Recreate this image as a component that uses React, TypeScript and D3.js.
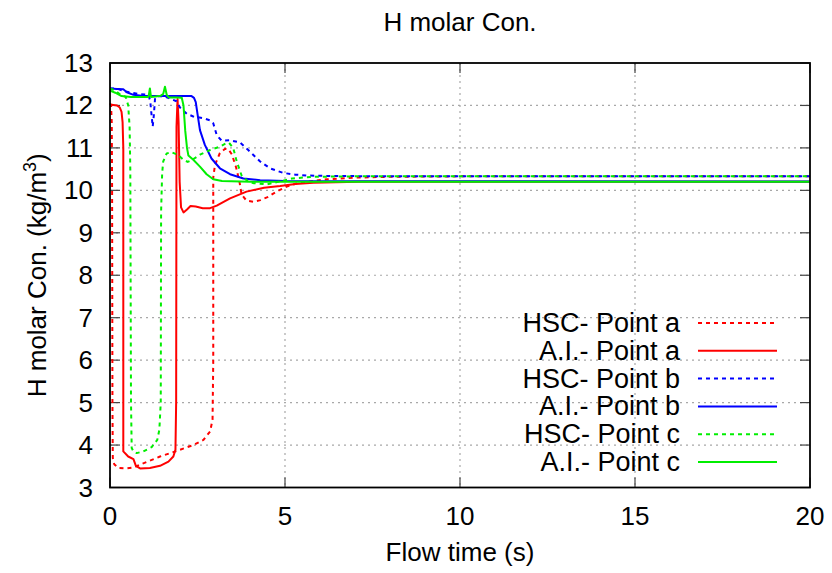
import React from "react";
import * as d3 from "d3";

type Pt = [number, number];

const hscA: Pt[] = [[0,12.05],[0.03,12.0],[0.05,11.6],[0.06,10],[0.07,5],[0.08,3.7],[0.12,3.55],[0.24,3.46],[0.48,3.45],[0.67,3.47],[0.95,3.57],[1.43,3.73],[1.9,3.86],[2.38,4.0],[2.67,4.12],[2.86,4.32],[2.93,4.6],[2.95,6],[2.95,10.3],[3.0,10.6],[3.14,10.88],[3.29,10.98],[3.38,10.97],[3.48,10.85],[3.6,10.55],[3.7,10.2],[3.76,9.9],[3.9,9.76],[4.1,9.73],[4.3,9.77],[4.5,9.84],[4.76,9.97],[5.05,10.09],[5.33,10.16],[5.7,10.21],[6.2,10.26],[7,10.3],[8,10.32],[10,10.33],[20,10.33]];
const aiA: Pt[] = [[0,12.02],[0.2,12.0],[0.28,11.95],[0.33,11.85],[0.36,11.6],[0.38,11.0],[0.38,3.85],[0.52,3.73],[0.67,3.67],[0.74,3.51],[0.86,3.45],[1.14,3.46],[1.43,3.51],[1.67,3.61],[1.81,3.73],[1.87,3.89],[1.89,5],[1.9,11.5],[1.93,12.15],[1.96,11.6],[1.99,10.2],[2.03,9.6],[2.1,9.48],[2.2,9.55],[2.3,9.63],[2.45,9.62],[2.65,9.58],[2.86,9.58],[3.05,9.64],[3.43,9.81],[3.9,9.97],[4.4,10.06],[4.86,10.1],[5.3,10.15],[5.81,10.18],[7.1,10.2],[20,10.2]];
const hscB: Pt[] = [[0,12.4],[0.2,12.4],[0.43,12.33],[0.81,12.27],[1.1,12.25],[1.15,12.1],[1.19,11.75],[1.22,11.5],[1.25,11.75],[1.29,12.2],[1.4,12.22],[1.6,12.2],[1.9,12.1],[2.0,11.95],[2.2,11.8],[2.38,11.74],[2.67,11.7],[2.86,11.65],[2.95,11.58],[3.05,11.3],[3.19,11.17],[3.43,11.18],[3.71,11.13],[3.95,10.95],[4.29,10.68],[4.57,10.52],[4.95,10.41],[5.3,10.37],[5.62,10.35],[6.2,10.34],[8,10.33],[20,10.33]];
const aiB: Pt[] = [[0,12.4],[0.2,12.39],[0.38,12.38],[0.48,12.31],[0.67,12.25],[0.95,12.22],[1.5,12.22],[2.33,12.22],[2.4,12.18],[2.45,12.08],[2.5,11.8],[2.57,11.42],[2.71,11.07],[2.9,10.75],[3.14,10.52],[3.43,10.38],[3.81,10.28],[4.29,10.24],[5,10.22],[20,10.21]];
const hscC: Pt[] = [[0,12.4],[0.15,12.35],[0.3,12.25],[0.45,12.2],[0.52,12.0],[0.56,11.5],[0.58,10.5],[0.6,5],[0.62,3.93],[0.67,3.85],[0.76,3.81],[0.95,3.85],[1.19,3.95],[1.35,4.12],[1.41,4.36],[1.45,5],[1.46,9.5],[1.49,10.4],[1.52,10.68],[1.62,10.87],[1.76,10.9],[1.95,10.83],[2.1,10.72],[2.22,10.67],[2.35,10.72],[2.57,10.84],[2.86,10.95],[3.14,11.03],[3.3,11.1],[3.4,11.12],[3.52,11.0],[3.62,10.68],[3.76,10.35],[3.95,10.2],[4.1,10.17],[4.48,10.14],[4.8,10.2],[5.2,10.28],[5.8,10.32],[7,10.33],[20,10.33]];
const aiC: Pt[] = [[0,12.35],[0.15,12.3],[0.33,12.22],[0.6,12.2],[1.1,12.2],[1.14,12.4],[1.17,12.2],[1.3,12.21],[1.45,12.23],[1.52,12.27],[1.57,12.44],[1.62,12.25],[1.68,12.19],[1.9,12.19],[2.05,12.18],[2.1,12.0],[2.15,11.4],[2.2,11.0],[2.24,10.82],[2.38,10.72],[2.57,10.56],[2.76,10.38],[2.95,10.26],[3.2,10.22],[4,10.2],[20,10.2]];

const seriesNames = ["HSC- Point a", "A.I.- Point a", "HSC- Point b", "A.I.- Point b", "HSC- Point c", "A.I.- Point c"];
const seriesData = [hscA, aiA, hscB, aiB, hscC, aiC];
const seriesColors = ["#ff0000", "#ff0000", "#0000ff", "#0000ff", "#00ee00", "#00ee00"];
const seriesDashed = [true, false, true, false, true, false];

const xTicks = [0, 5, 10, 15, 20];
const yTicks = [3, 4, 5, 6, 7, 8, 9, 10, 11, 12, 13];

const W = 832, H = 573;
const L = 110, R = 810, T = 63, B = 487.5;
const FONT = "'Liberation Sans', Arial, Helvetica, sans-serif";

export default function App() {
  const x = d3.scaleLinear().domain([0, 20]).range([L, R]);
  const y = d3.scaleLinear().domain([3, 13]).range([B, T]);
  const line = d3.line<Pt>().x(d => x(d[0])).y(d => y(d[1]));
  const tickLen = 10;
  return (
    <svg width={W} height={H} style={{ position: "fixed", left: 0, top: 0, background: "#fff" }} fontFamily={FONT}>
      <rect x={0} y={0} width={W} height={H} fill="#fff" />
      {/* grid */}
      {xTicks.slice(1, -1).map(t => (
        <line key={"gx" + t} x1={x(t)} x2={x(t)} y1={T} y2={B} stroke="#a8a8a8" strokeWidth={1.2} strokeDasharray="2,4" />
      ))}
      {yTicks.slice(1, -1).map(t => (
        <line key={"gy" + t} x1={L} x2={R} y1={y(t)} y2={y(t)} stroke="#a8a8a8" strokeWidth={1.2} strokeDasharray="2,4" />
      ))}
      {/* ticks */}
      {xTicks.map(t => (
        <g key={"tx" + t}>
          <line x1={x(t)} x2={x(t)} y1={B} y2={B - tickLen} stroke="#444" strokeWidth={1.2} />
          <line x1={x(t)} x2={x(t)} y1={T} y2={T + tickLen} stroke="#444" strokeWidth={1.2} />
          <text x={x(t)} y={525} fontSize={26} textAnchor="middle" fill="#000">{t}</text>
        </g>
      ))}
      {yTicks.map(t => (
        <g key={"ty" + t}>
          <line x1={L} x2={L + tickLen} y1={y(t)} y2={y(t)} stroke="#444" strokeWidth={1.2} />
          <line x1={R} x2={R - tickLen} y1={y(t)} y2={y(t)} stroke="#444" strokeWidth={1.2} />
          <text x={93} y={y(t) + 9} fontSize={26} textAnchor="end" fill="#000">{t}</text>
        </g>
      ))}
      {/* series */}
      <g>
        {seriesData.map((d, i) => (
          <path key={i} d={line(d) || ""} fill="none" stroke={seriesColors[i]} strokeWidth={2}
            strokeDasharray={seriesDashed[i] ? "4,4" : undefined} strokeLinejoin="round" />
        ))}
      </g>
      {/* frame */}
      <rect x={L} y={T} width={R - L} height={B - T} fill="none" stroke="#000" strokeWidth={1.8} />
      {/* legend */}
      {seriesNames.map((n, i) => {
        const ly = 323 + i * 27.8;
        return (
          <g key={"lg" + i}>
            <text x={680} y={ly + 9} fontSize={27} textAnchor="end" fill="#000">{n}</text>
            <line x1={698} x2={777} y1={ly} y2={ly} stroke={seriesColors[i]} strokeWidth={2}
              strokeDasharray={seriesDashed[i] ? "4,4" : undefined} />
          </g>
        );
      })}
      {/* titles */}
      <text x={(L + R) / 2} y={31} fontSize={26} textAnchor="middle" fill="#000">H molar Con.</text>
      <text x={(L + R) / 2} y={561} fontSize={26} textAnchor="middle" fill="#000">Flow time (s)</text>
      <text transform={`translate(46, ${(T + B) / 2}) rotate(-90)`} fontSize={26} textAnchor="middle" fill="#000">
        H molar Con. (kg/m<tspan dy={-10} fontSize={18}>3</tspan><tspan dy={10}>)</tspan>
      </text>
    </svg>
  );
}
